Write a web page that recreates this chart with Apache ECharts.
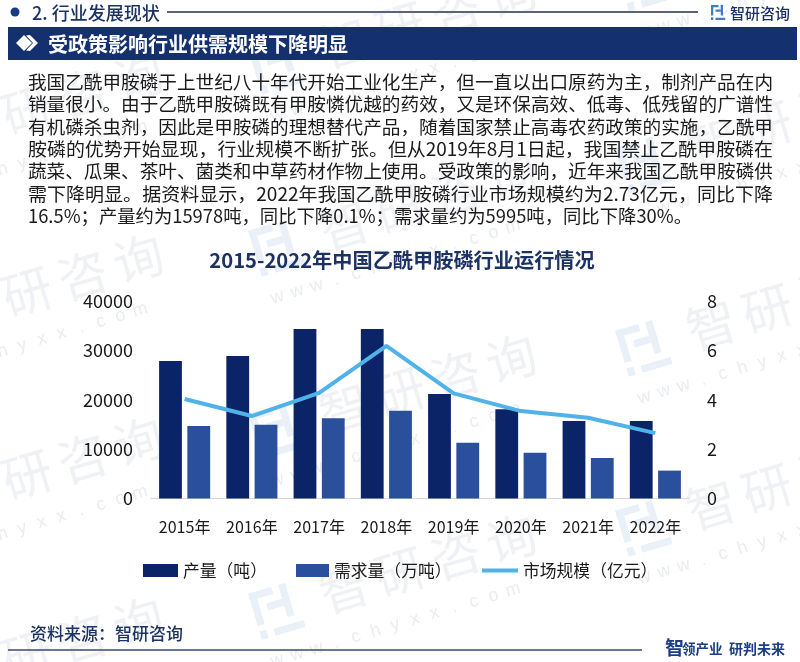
<!DOCTYPE html>
<html><head><meta charset="utf-8">
<style>html,body{margin:0;padding:0;background:#fff}#c{width:800px;height:662px}</style>
<script src="https://cdn.jsdelivr.net/npm/echarts@6/dist/echarts.min.js"></script>
</head><body><div id="c"></div>
<script>
const categories = ['2015年','2016年','2017年','2018年','2019年','2020年','2021年','2022年'];
const output = [27850,28860,34330,34330,21160,18060,15700,15700];
const demand = [14680,14950,16240,17780,11300,9280,8200,5650];
const market = [4.03,3.34,4.28,6.18,4.26,3.54,3.27,2.65];
const bodyLines = [
 '我国乙酰甲胺磷于上世纪八十年代开始工业化生产，但一直以出口原药为主，制剂产品在内',
 '销量很小。由于乙酰甲胺磷既有甲胺憐优越的药效，又是环保高效、低毒、低残留的广谱性',
 '有机磷杀虫剂，因此是甲胺磷的理想替代产品，随着国家禁止高毒农药政策的实施，乙酰甲',
 '胺磷的优势开始显现，行业规模不断扩张。但从2019年8月1日起，我国禁止乙酰甲胺磷在',
 '蔬菜、瓜果、茶叶、菌类和中草药材作物上使用。受政策的影响，近年来我国乙酰甲胺磷供',
 '需下降明显。据资料显示，2022年我国乙酰甲胺磷行业市场规模约为2.73亿元，同比下降',
 '16.5%；产量约为15978吨，同比下降0.1%；需求量约为5995吨，同比下降30%。'
];
const CJK = '"Noto Sans CJK SC","Noto Sans",sans-serif';
const NAVY = '#0b2468', BLUE = '#2a4f9c', SKY = '#4fb3ea';

function txt(x,y,t,size,color,weight,align){
  return {type:'text',x,y,silent:true,style:{text:t,font:`${weight||'normal'} ${size}px ${CJK}`,fill:color,textAlign:align||'left',textVerticalAlign:'middle'}};
}
function logo(x,y,s,color,rot){
  const u=s/10;
  return {type:'group',x,y,rotation:rot||0,silent:true,children:[
    {type:'rect',shape:{x:0,y:0,width:5*u,height:1.5*u},style:{fill:color}},
    {type:'rect',shape:{x:0,y:0,width:1.5*u,height:7*u},style:{fill:color}},
    {type:'rect',shape:{x:0,y:8.2*u,width:1.5*u,height:1.8*u},style:{fill:color}},
    {type:'rect',shape:{x:3*u,y:3*u,width:3.5*u,height:1.5*u},style:{fill:color}},
    {type:'rect',shape:{x:6.5*u,y:0,width:1.5*u,height:7*u},style:{fill:color}},
    {type:'rect',shape:{x:3*u,y:8.5*u,width:6.5*u,height:1.5*u},style:{fill:color}}
  ]};
}
function mark(x,y){
  const c=[logo(-24,-24,48,'#e9f0f8',0)];
  '智研咨询'.split('').forEach((ch,i)=>c.push({type:'text',x:70+i*58,y:-2,silent:true,style:{text:ch,font:`50px ${CJK}`,fill:'#eff1f5',textAlign:'center',textVerticalAlign:'middle'}}));
  'www.chyxx.com'.split('').forEach((ch,i)=>c.push({type:'text',x:-15+i*20.5,y:48,silent:true,style:{text:ch,font:'18px "Liberation Sans"',fill:'#e9ecf1',textAlign:'center',textVerticalAlign:'middle'}}));
  return {type:'group',x,y,rotation:0.29,silent:true,children:c};
}
const g=[];
[[-95,693],[-95,513],[-95,330],[-95,148],
 [278,610],[278,430],[278,247],[278,65],
 [645,527],[645,347],[645,164],[645,-18]].forEach(p=>g.push(mark(p[0],p[1])));
// header
g.push({type:'circle',silent:true,shape:{cx:15,cy:12,r:4.5},style:{fill:'#1a3a80'}});
g.push(txt(32,13,'2. 行业发展现状',18,'#1d3264','500'));
g.push({type:'line',silent:true,shape:{x1:167,y1:12,x2:698,y2:12},style:{stroke:'#5a6476',lineWidth:2}});
g.push(logo(711,5,15,'#3a7fc4',0));
g.push(txt(730,13,'智研咨询',15,'#1d3264','500'));
g.push({type:'rect',silent:true,shape:{x:8,y:27,width:789,height:33},style:{fill:'#15306f'}});
g.push({type:'polygon',silent:true,shape:{points:[[16,43],[24,35],[32,43],[24,51]]},style:{fill:'#fff'}});
g.push({type:'polygon',silent:true,shape:{points:[[26,35.5],[30,35],[38,43],[30,51],[26,50.5],[33,43]]},style:{fill:'#fff'}});
g.push(txt(48,44,'受政策影响行业供需规模下降明显',20,'#fff','bold'));
// body text: each line fitted to the width it has in the reference
const measure=document.createElement('canvas').getContext('2d');
const BODY=18.6;
measure.font=`${BODY}px "Noto Sans CJK SC"`;
const ends=[773,773,773,773,773,773,692];
bodyLines.forEach((t,i)=>{
  const el=txt(28,82+i*22.3,t,BODY,'#1a1a1a');
  el.scaleX=(ends[i]-28)/measure.measureText(t).width;
  g.push(el);
});
// footer
g.push(txt(30,634,'资料来源：智研咨询',17,'#1d3264','500'));
g.push({type:'line',silent:true,shape:{x1:8,y1:650,x2:642,y2:650},style:{stroke:'#3a4a78',lineWidth:1.5}});
g.push(txt(665,648,'智',19,'#1d3c86','bold'));
g.push(txt(682,649,'领产业',13.5,'#1d3c86','bold'));
g.push(txt(729,649,'研判未来',14,'#1d3c86','bold'));

const legendText={fontFamily:CJK,fontSize:16.8,color:'#1a1a1a'};
const chart=echarts.init(document.getElementById('c'),null,{renderer:'canvas'});
chart.setOption({
  animation:false,
  backgroundColor:'#fff',
  title:{text:'2015-2022年中国乙酰甲胺磷行业运行情况',left:397,top:245,textAlign:'center',
    textStyle:{fontFamily:CJK,fontSize:20.2,fontWeight:'bold',color:'#1d3264'}},
  grid:{left:151,right:111,top:301,height:197.5},
  legend:[
    {left:138,top:557,itemWidth:35,itemHeight:13,icon:'rect',textStyle:legendText,data:['产量（吨）']},
    {left:291,top:557,itemWidth:33,itemHeight:13,icon:'rect',textStyle:legendText,data:['需求量（万吨）']},
    {left:477,top:557,itemWidth:36,itemHeight:4,icon:'rect',textStyle:legendText,data:['市场规模（亿元）']}
  ],
  xAxis:{type:'category',data:categories,axisTick:{show:false},
    axisLine:{lineStyle:{color:'#d5d8de',width:1}},
    axisLabel:{fontFamily:CJK,fontSize:16,color:'#1a1a1a',margin:20}},
  yAxis:[
    {type:'value',min:0,max:40000,interval:10000,splitLine:{show:false},axisLine:{show:false},axisTick:{show:false},
     axisLabel:{fontFamily:CJK,fontSize:18,color:'#1a1a1a',margin:18,formatter:v=>String(v)}},
    {type:'value',min:0,max:8,interval:2,splitLine:{show:false},axisLine:{show:false},axisTick:{show:false},
     axisLabel:{fontFamily:CJK,fontSize:18,color:'#1a1a1a',margin:18}}
  ],
  series:[
    {name:'产量（吨）',type:'bar',data:output,barWidth:22.8,barGap:'24%',itemStyle:{color:NAVY},z:3},
    {name:'需求量（万吨）',type:'bar',data:demand,barWidth:22.8,barGap:'24%',itemStyle:{color:BLUE},z:3},
    {name:'市场规模（亿元）',type:'line',yAxisIndex:1,data:market,symbol:'none',lineStyle:{color:SKY,width:4},itemStyle:{color:SKY},z:4}
  ],
  graphic:{elements:g}
});
</script></body></html>
